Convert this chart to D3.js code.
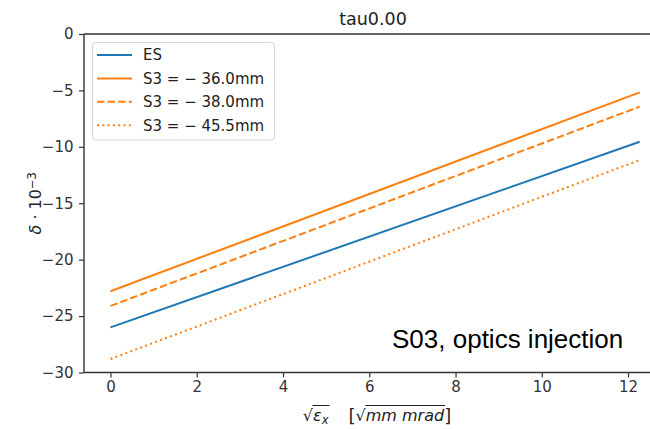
<!DOCTYPE html>
<html>
<head>
<meta charset="utf-8">
<title>tau0.00</title>
<script src="https://cdn.jsdelivr.net/npm/d3@7"></script>
<style>
  body { margin: 0; background: #fff; }
  svg { display: block; }
</style>
</head>
<body>
<div id="chart"></div>
<script>
// data
const xTicks = [0, 2, 4, 6, 8, 10, 12];
const yTicks = [0, -5, -10, -15, -20, -25, -30];
const emitX = [0, 12.27];
const seriesNames = ["ES", "S3 = \u2212 36.0mm", "S3 = \u2212 38.0mm", "S3 = \u2212 45.5mm"];
const esVals = [-26.0, -9.55];
const s36Vals = [-22.8, -5.17];
const s38Vals = [-24.1, -6.44];
const s455Vals = [-28.8, -11.17];

const series = [
  { name: seriesNames[0], vals: esVals, color: "#1f77b4", dash: null },
  { name: seriesNames[1], vals: s36Vals, color: "#ff7f0e", dash: null },
  { name: seriesNames[2], vals: s38Vals, color: "#ff7f0e", dash: "7.4,3.2" },
  { name: seriesNames[3], vals: s455Vals, color: "#ff7f0e", dash: "2,3.3" }
];

const W = 650, H = 429;
const pLeft = 84, pRight = 666, pTop = 34, pBottom = 372.5;
const axisColor = "#333";
const fs = 15;

const svg = d3.select("#chart").append("svg")
  .attr("width", W).attr("height", H)
  .style("font-family", "'DejaVu Sans', sans-serif");

const x = d3.scaleLinear().domain([-0.614, 12.88]).range([pLeft, pRight]);
const y = d3.scaleLinear().domain([-30, 0]).range([pBottom, pTop]);

// lines
const line = d3.line().x((d, i) => x(emitX[i])).y(d => y(d));
series.forEach(s => {
  svg.append("path")
    .datum(s.vals)
    .attr("d", line)
    .attr("fill", "none")
    .attr("stroke", s.color)
    .attr("stroke-width", 2)
    .attr("stroke-dasharray", s.dash);
});

// axes
const xAxis = svg.append("g")
  .attr("transform", `translate(0,${pBottom})`)
  .call(d3.axisBottom(x).tickValues(xTicks).tickSize(5).tickPadding(4).tickSizeOuter(0));
const yAxis = svg.append("g")
  .attr("transform", `translate(${pLeft},0)`)
  .call(d3.axisLeft(y).tickValues(yTicks).tickSize(5).tickPadding(5.5).tickSizeOuter(0)
    .tickFormat(d => d < 0 ? "\u2212" + Math.abs(d) : d));
[xAxis, yAxis].forEach(a => {
  a.selectAll("path").remove();
  a.selectAll("line").attr("stroke", axisColor).attr("stroke-width", 1.2);
  a.selectAll("text").attr("fill", axisColor)
    .style("font-family", "'DejaVu Sans', sans-serif").style("font-size", fs + "px");
});

// spines
[[pLeft, pTop, pLeft, pBottom], [pLeft, pBottom, pRight, pBottom],
 [pLeft, pTop, pRight, pTop], [pRight, pTop, pRight, pBottom]].forEach(s => {
  svg.append("line").attr("x1", s[0]).attr("y1", s[1]).attr("x2", s[2]).attr("y2", s[3])
    .attr("stroke", axisColor).attr("stroke-width", 1.4);
});

// title
svg.append("text").attr("x", (pLeft + pRight) / 2 - 2).attr("y", 25)
  .attr("text-anchor", "middle").attr("fill", "#222")
  .style("font-size", "17.5px").text("tau0.00");

// legend
const lg = svg.append("g");
lg.append("rect").attr("x", 92.5).attr("y", 42.5).attr("width", 182).attr("height", 97.5)
  .attr("rx", 3).attr("fill", "#fff").attr("fill-opacity", 0.85)
  .attr("stroke", "#d6d6d6").attr("stroke-width", 1);
series.forEach((s, i) => {
  const ry = 55 + i * 23.4;
  lg.append("line").attr("x1", 97).attr("x2", 132).attr("y1", ry).attr("y2", ry)
    .attr("stroke", s.color).attr("stroke-width", 2).attr("stroke-dasharray", s.dash);
  lg.append("text").attr("x", 143).attr("y", ry).attr("dy", "0.36em")
    .attr("fill", "#222").style("font-size", fs + "px").text(s.name);
});

// annotation
svg.append("text").attr("x", 392).attr("y", 347.5)
  .attr("fill", "#000")
  .style("font-family", "'Liberation Sans', Arial, sans-serif").style("font-size", "26px")
  .text("S03, optics injection");

// y label
const yl = svg.append("text")
  .attr("transform", `translate(41,${(pTop + pBottom) / 2}) rotate(-90)`)
  .attr("text-anchor", "middle").attr("fill", "#222").style("font-size", "16px");
yl.append("tspan").attr("font-style", "italic").text("\u03b4");
yl.append("tspan").text(" \u00b7 10");
yl.append("tspan").attr("dy", "-0.45em").style("font-size", "11.5px").text("\u22123");

// x label built piece by piece so the root overlines can be placed
const xl = svg.append("g");
let cx = 0;
const base = 421;
function piece(txt, opts) {
  const t = xl.append("text").attr("x", cx).attr("y", base + (opts.dy || 0))
    .attr("fill", "#222").style("font-size", (opts.size || 16) + "px")
    .attr("font-style", opts.italic ? "italic" : null).text(txt);
  const w = t.node().getComputedTextLength();
  const x0 = cx;
  cx += w + (opts.gap || 0);
  return [x0, cx];
}
const r1 = piece("\u221a", {});
const e1 = piece("\u03b5", { italic: true });
const e2 = piece("x", { italic: true, size: 11.5, dy: 3, gap: 20 });
piece("[", { size: 18, dy: 1 });
const r2 = piece("\u221a", {});
const m1 = piece("mm mrad", { italic: true });
piece("]", { size: 18, dy: 1 });
const ov = base - 15.5;
xl.append("line").attr("x1", r1[1] - 0.5).attr("x2", e2[1] - 20 + 1).attr("y1", ov).attr("y2", ov)
  .attr("stroke", "#222").attr("stroke-width", 1);
xl.append("line").attr("x1", r2[1] - 0.5).attr("x2", m1[1] + 1).attr("y1", ov).attr("y2", ov)
  .attr("stroke", "#222").attr("stroke-width", 1);
xl.attr("transform", `translate(${(pLeft + pRight) / 2 + 2 - cx / 2},0)`);
</script>
</body>
</html>
